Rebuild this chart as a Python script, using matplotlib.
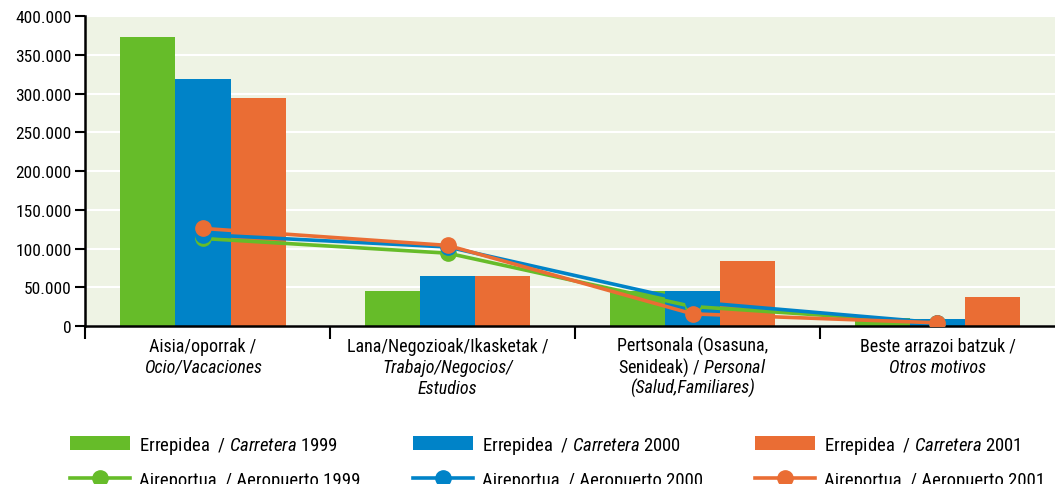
import numpy as np
import matplotlib.pyplot as plt
from matplotlib.ticker import FuncFormatter
from matplotlib import transforms

fonts = ['Roboto Condensed', 'Archivo Narrow', 'PT Sans Narrow', 'DejaVu Sans']
plt.rcParams['font.family'] = fonts
plt.rcParams['mathtext.fontset'] = 'custom'
plt.rcParams['mathtext.rm'] = 'Roboto Condensed'
plt.rcParams['mathtext.it'] = 'Roboto Condensed:italic'

# category labels, line by line: (roman part, italic part)
cat_lines = [
    [("Aisia/oporrak /", ""), ("", "Ocio/Vacaciones")],
    [("Lana/Negozioak/Ikasketak /", ""), ("", "Trabajo/Negocios/"), ("", "Estudios")],
    [("Pertsonala (Osasuna,", ""), ("Senideak) / ", "Personal"), ("", "(Salud,Familiares)")],
    [("Beste arrazoi batzuk /", ""), ("", "Otros motivos")],
]
years = ["1999", "2000", "2001"]
carretera = [[373000, 45000, 45000, 10000],
             [319000, 65000, 45000, 9000],
             [295000, 65000, 84000, 37500]]
aeropuerto = [[113000, 94000, 25000, 4000],
              [118000, 102000, 31000, 4000],
              [126000, 104000, 15500, 4000]]
colors = ['#66bc29', '#0083c8', '#ea6d34']

fig = plt.figure(figsize=(10.55, 4.85), dpi=100)
ax = fig.add_axes([0.081, 0.326, 0.919, 0.638])
ax.set_facecolor('#eef3e4')

x = np.arange(len(cat_lines))
w = 0.225
bars = []
lines = []
for i in range(3):
    b = ax.bar(x + (i - 1) * w, carretera[i], w, color=colors[i], zorder=2)
    bars.append(b)
for i in range(3):
    l, = ax.plot(x, aeropuerto[i], color=colors[i], lw=2.6, marker='o', ms=11, zorder=3)
    lines.append(l)

ax.set_xlim(-0.48, 3.48)
ax.set_ylim(0, 400000)
ax.set_yticks(range(0, 400001, 50000))
ax.yaxis.set_major_formatter(FuncFormatter(lambda v, p: f"{int(v):,}".replace(',', '.')))
ax.grid(axis='y', color='white', lw=1.5, zorder=1)
ax.set_axisbelow(True)

ax.set_xticks([-0.48, 0.52, 1.52, 2.52])
ax.set_xticklabels([])
ax.tick_params(axis='x', length=9, width=1.5, direction='out')
ax.tick_params(axis='y', length=7, width=1.5, labelsize=12.5, pad=3)
for s in ['top', 'right']:
    ax.spines[s].set_visible(False)
for s in ['left', 'bottom']:
    ax.spines[s].set_linewidth(1.8)

# category labels under the axis
trans = transforms.blended_transform_factory(ax.transData, ax.transAxes)
for xi, cl in zip(x, cat_lines):
    for j, (rom, ita) in enumerate(cl):
        if rom and ita:
            txt = rom + r"$\it{" + ita + "}$"
            st = 'normal'
        elif ita:
            txt, st = ita, 'italic'
        else:
            txt, st = rom, 'normal'
        ax.annotate(txt, (xi, 0), xycoords=trans, xytext=(0, -20 - 21 * j),
                    textcoords='offset pixels', ha='center', va='center',
                    fontsize=13, style=st, annotation_clip=False)

labels = []
handles = []
for i in range(3):
    handles += [bars[i], lines[i]]
    labels += ["Errepidea  / $\\it{Carretera}$ " + years[i],
               "Aireportua  / Aeropuerto " + years[i]]
fig.legend(handles=handles, labels=labels, ncol=3,
           loc='upper left', bbox_to_anchor=(0.066, 0.0, 0.925, 0.104), mode='expand',
           frameon=False, fontsize=13.5, handlelength=3.2, handleheight=0.7,
           columnspacing=2, labelspacing=0.8, handletextpad=0.5, borderaxespad=0,
           borderpad=0)

fig.savefig('out.png', dpi=100)
